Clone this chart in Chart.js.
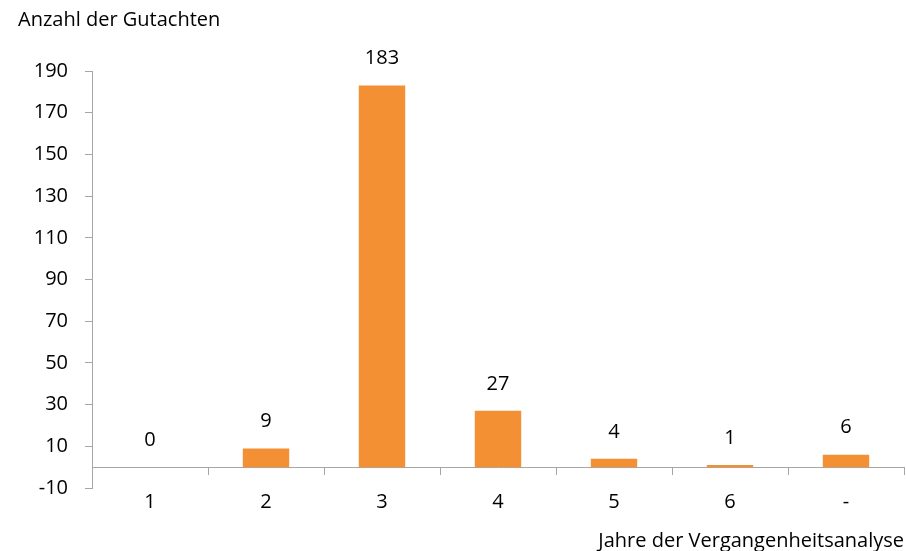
<!DOCTYPE html>
<html>
<head>
<meta charset="utf-8">
<script src="https://cdn.jsdelivr.net/npm/chart.js@4/dist/chart.umd.min.js"></script>
<style>
html,body{margin:0;padding:0;background:#fff;}
canvas{display:block;}
</style>
</head>
<body>
<canvas id="c" width="906" height="551"></canvas>
<script>
const categories = ["1", "2", "3", "4", "5", "6", "-"];
const values = [0, 9, 183, 27, 4, 1, 6];
const yTitle = "Anzahl der Gutachten";
const xTitle = "Jahre der Vergangenheitsanalyse";
const yMin = -10, yMax = 190, yStep = 20;

const FONT = "'Open Sans'";
const FS = 20;
const AXIS = "#A6A6A6";
const TXT = "#000000";
const BAR = "#F39034";

const valueLabels = {
  id: "valueLabels",
  afterDatasetsDraw(chart) {
    const ctx = chart.ctx;
    const meta = chart.getDatasetMeta(0);
    ctx.save();
    ctx.font = FS + "px " + FONT;
    ctx.fillStyle = TXT;
    ctx.textAlign = "center";
    ctx.textBaseline = "middle";
    meta.data.forEach((bar, i) => {
      ctx.fillText(String(values[i]), bar.x, bar.y - 27);
    });
    ctx.restore();
  }
};

new Chart(document.getElementById("c"), {
  type: "bar",
  data: {
    labels: categories,
    datasets: [{
      data: values,
      backgroundColor: BAR,
      borderWidth: 0,
      barPercentage: 0.4,
      categoryPercentage: 1.0
    }]
  },
  options: {
    responsive: false,
    animation: false,
    layout: { padding: { left: 18, right: 2, top: 0, bottom: 0 } },
    plugins: {
      legend: { display: false },
      tooltip: { enabled: false },
      title: {
        display: true,
        text: yTitle,
        align: "start",
        color: TXT,
        font: { family: FONT, size: FS, weight: "normal", lineHeight: 1.2 },
        padding: { top: 8, bottom: 39 }
      },
      subtitle: {
        display: true,
        text: xTitle,
        position: "bottom",
        align: "end",
        color: TXT,
        font: { family: FONT, size: FS, weight: "normal", lineHeight: 1 },
        padding: { top: 43, bottom: 0 }
      }
    },
    scales: {
      x: {
        position: { y: 0 },
        offset: true,
        grid: {
          offset: true,
          drawOnChartArea: false,
          drawTicks: true,
          tickLength: 7,
          color: AXIS,
          lineWidth: 1
        },
        border: { display: true, color: AXIS, width: 1 },
        ticks: {
          color: TXT,
          font: { family: FONT, size: FS },
          padding: 16,
          maxRotation: 0
        }
      },
      y: {
        min: yMin,
        max: yMax,
        grid: {
          drawOnChartArea: false,
          drawTicks: true,
          tickLength: 7,
          color: AXIS,
          lineWidth: 1
        },
        border: { display: true, color: AXIS, width: 1 },
        ticks: {
          stepSize: yStep,
          color: TXT,
          font: { family: FONT, size: FS },
          padding: 17
        },
        afterFit(scale) { scale.width = 74; }
      }
    }
  },
  plugins: [valueLabels]
});
</script>
</body>
</html>
